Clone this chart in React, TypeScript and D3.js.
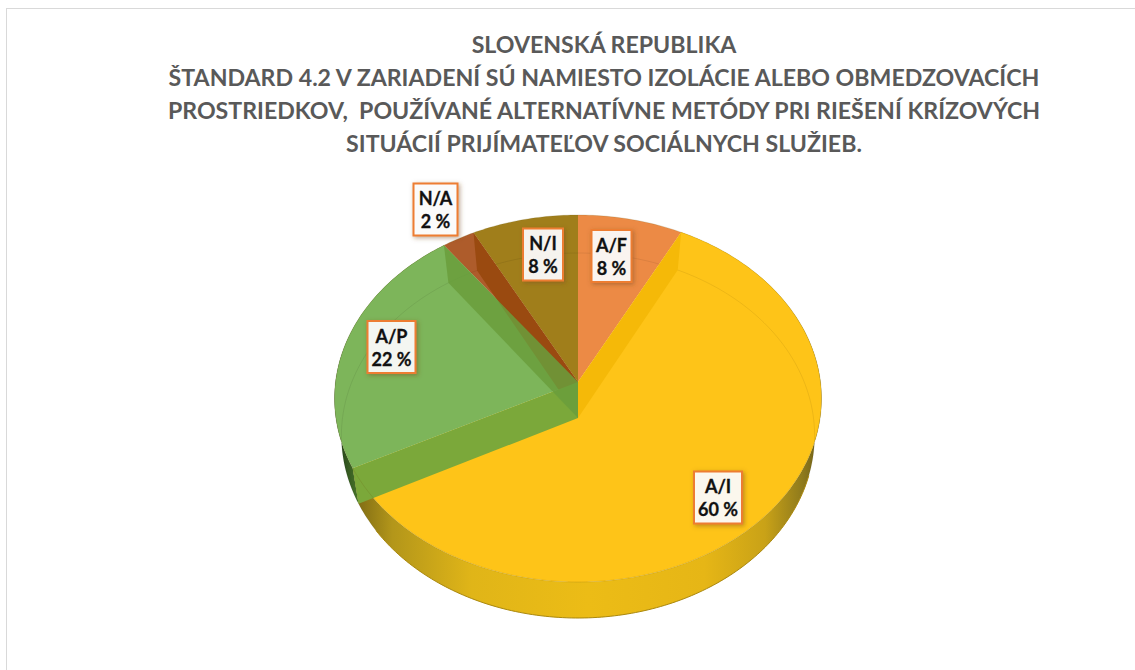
import React, { useEffect, useRef } from "react";
import * as d3 from "d3";

const width = 1135;
const height = 670;

const titleLines = [
  "SLOVENSKÁ REPUBLIKA",
  "ŠTANDARD 4.2 V ZARIADENÍ SÚ NAMIESTO IZOLÁCIE ALEBO OBMEDZOVACÍCH",
  "PROSTRIEDKOV,  POUŽÍVANÉ ALTERNATÍVNE METÓDY PRI RIEŠENÍ KRÍZOVÝCH",
  "SITUÁCIÍ PRIJÍMATEĽOV SOCIÁLNYCH SLUŽIEB.",
];
const categories = ["A/F", "A/I", "A/P", "N/A", "N/I"];
// slice sizes as measured on the picture, the labels show them rounded
const shares = [7.6, 59.9, 22.4, 2.4, 7.7];
const percents = [8, 60, 22, 2, 8];
const topColors = ["#EC8A45", "#FEC418", "#7DB55A", "#AE5C2B", "#A07E1B"];

// label box centres, picked by eye
const labelCentres: Record<string, [number, number]> = {
  "A/F": [611.5, 256],
  "A/I": [718, 497.5],
  "A/P": [391.5, 347],
  "N/A": [435.5, 209.5],
  "N/I": [543, 254.5],
};

// the pie is in perspective, so the hub is not the middle of the ellipse
const topFace = { cx: 578, y0: 382, rx: 242.5, up: 167, down: 200 };
const bottomFace = { cx: 578, y0: 418, rx: 235.5, up: 165, down: 200 };

type Face = typeof topFace;

const project = (face: Face, angle: number, r = 1): [number, number] => {
  const k = (face.down - face.up) / (face.down + face.up);
  const s = face.up * (1 + k);
  const u = r * Math.sin(angle);
  const v = -r * Math.cos(angle);
  const w = 1 - k * v;
  return [face.cx + (face.rx * u) / w, face.y0 + (s * v) / w];
};

const arcPoints = (face: Face, a0: number, a1: number) => {
  const n = Math.max(2, Math.ceil(Math.abs(a1 - a0) * 60));
  return d3.range(n + 1).map((i) => project(face, a0 + ((a1 - a0) * i) / n));
};

const line = d3.line();
const closed = (pts: [number, number][]) => line(pts) + "Z";

export default function App() {
  const ref = useRef<SVGSVGElement>(null);

  useEffect(() => {
    const svg = d3.select(ref.current);
    svg.selectAll("*").remove();

    const defs = svg.append("defs");
    const grad = defs
      .append("linearGradient")
      .attr("id", "wallGold")
      .attr("gradientUnits", "userSpaceOnUse")
      .attr("x1", 355)
      .attr("x2", 821)
      .attr("y1", 0)
      .attr("y2", 0);
    [
      [0, "#7d6a14"],
      [0.08, "#b3961a"],
      [0.25, "#e0b518"],
      [0.5, "#ecbc16"],
      [0.75, "#e6b616"],
      [0.88, "#c9a217"],
      [0.96, "#8f7a1c"],
      [1, "#6b5c18"],
    ].forEach(([o, c]) => grad.append("stop").attr("offset", o).attr("stop-color", c));

    const gradGreen = defs
      .append("linearGradient")
      .attr("id", "wallGreen")
      .attr("gradientUnits", "userSpaceOnUse")
      .attr("x1", 336)
      .attr("x2", 360)
      .attr("y1", 0)
      .attr("y2", 0);
    gradGreen.append("stop").attr("offset", 0).attr("stop-color", "#1f3a18");
    gradGreen.append("stop").attr("offset", 1).attr("stop-color", "#4c7a2a");

    const shadow = defs.append("filter").attr("id", "boxShadow").attr("x", "-30%").attr("y", "-30%").attr("width", "160%").attr("height", "160%");
    shadow
      .append("feDropShadow")
      .attr("dx", 1.5)
      .attr("dy", 1.5)
      .attr("stdDeviation", 2.2)
      .attr("flood-color", "#7a4a20")
      .attr("flood-opacity", 0.5);

    svg
      .append("rect")
      .attr("x", 6.5)
      .attr("y", 8.5)
      .attr("width", 1300)
      .attr("height", 900)
      .attr("fill", "#fff")
      .attr("stroke", "#d9d9d9");

    svg
      .append("g")
      .selectAll("text")
      .data(titleLines)
      .join("text")
      .attr("x", 604)
      .attr("y", (d, i) => 52.5 + i * 33)
      .attr("text-anchor", "middle")
      .attr("font-family", "Lato, 'Open Sans', sans-serif")
      .attr("font-weight", 700)
      .attr("font-size", 23.15)
      .attr("fill", "#595959")
      .style("white-space", "pre")
      .text((d) => d);

    const slices = d3
      .pie<number>()
      .sort(null)
      .startAngle(0)
      .endAngle(2 * Math.PI)(shares);

    const pie = svg.append("g");
    const byName = (name: string) => slices[categories.indexOf(name)];

    // outer wall, only the part that faces the viewer shows under the top face
    const aI = byName("A/I");
    const aP = byName("A/P");
    pie
      .append("path")
      .attr("d", closed([...arcPoints(topFace, aP.startAngle, aP.endAngle), ...arcPoints(bottomFace, aP.endAngle, aP.startAngle)]))
      .attr("fill", "url(#wallGreen)");
    pie
      .append("path")
      .attr("d", closed([...arcPoints(topFace, aI.startAngle, aI.endAngle), ...arcPoints(bottomFace, aI.endAngle, aI.startAngle)]))
      .attr("fill", "url(#wallGold)");
    pie
      .append("path")
      .attr("d", line(arcPoints(bottomFace, Math.PI * 0.6, Math.PI * 1.3)))
      .attr("fill", "none")
      .attr("stroke", "#b8930f")
      .attr("stroke-width", 1);

    // top faces
    pie
      .selectAll("path.top")
      .data(slices)
      .join("path")
      .attr("class", "top")
      .attr("d", (d) => closed([[topFace.cx, topFace.y0], ...arcPoints(topFace, d.startAngle, d.endAngle)]))
      .attr("fill", (d, i) => topColors[i]);

    // bottom rim seen through the top
    pie
      .append("path")
      .attr("d", closed(arcPoints(bottomFace, 0, 2 * Math.PI)))
      .attr("fill", "none")
      .attr("stroke", "#000")
      .attr("stroke-opacity", 0.07);

    // radial walls, painted from the back to the front
    const radialWall = (angle: number, fill: string, opacity = 1) =>
      pie
        .append("path")
        .attr(
          "d",
          closed([project(topFace, angle), project(bottomFace, angle), [bottomFace.cx, bottomFace.y0], [topFace.cx, topFace.y0]])
        )
        .attr("fill", fill)
        .attr("fill-opacity", opacity);

    radialWall(aI.startAngle, "#F5B908");
    radialWall(byName("N/I").startAngle, "#9A4A10");
    radialWall(aP.startAngle, "#7BA83A");
    radialWall(aP.endAngle, "#6A9E3C", 0.85);

    // a thin edge round the top ellipse
    pie
      .append("path")
      .attr("d", closed(arcPoints(topFace, 0, 2 * Math.PI)))
      .attr("fill", "none")
      .attr("stroke", "#6b5a10")
      .attr("stroke-opacity", 0.18);

    // data labels
    const labels = svg
      .append("g")
      .selectAll("g")
      .data(slices)
      .join("g")
      .attr("transform", (d, i) => `translate(${labelCentres[categories[i]]})`);

    labels
      .append("rect")
      .attr("x", (d, i) => (percents[i] >= 10 ? -24 : categories[i] === "N/A" ? -22 : -20))
      .attr("width", (d, i) => (percents[i] >= 10 ? 48 : categories[i] === "N/A" ? 44 : 40))
      .attr("y", -26)
      .attr("height", 52)
      .attr("fill", "#fff")
      .attr("fill-opacity", 0.9)
      .attr("stroke", "#ED7D31")
      .attr("stroke-width", 2)
      .attr("filter", "url(#boxShadow)");

    const labelFont = "Lato, 'Open Sans', sans-serif";
    labels
      .append("text")
      .attr("text-anchor", "middle")
      .attr("y", -4.5)
      .attr("font-family", labelFont)
      .attr("font-weight", 700)
      .attr("font-size", 18)
      .attr("stroke", "#111")
      .attr("stroke-width", 0.3)
      .attr("fill", "#111")
      .text((d, i) => categories[i]);
    labels
      .append("text")
      .attr("text-anchor", "middle")
      .attr("y", 18.5)
      .attr("font-family", labelFont)
      .attr("font-weight", 700)
      .attr("font-size", 18)
      .attr("stroke", "#111")
      .attr("stroke-width", 0.3)
      .attr("fill", "#111")
      .text((d, i) => `${percents[i]} %`);
  }, []);

  return (
    <svg
      ref={ref}
      width={width}
      height={height}
      viewBox={`0 0 ${width} ${height}`}
      style={{ position: "absolute", left: 0, top: 0 }}
    ></svg>
  );
}
